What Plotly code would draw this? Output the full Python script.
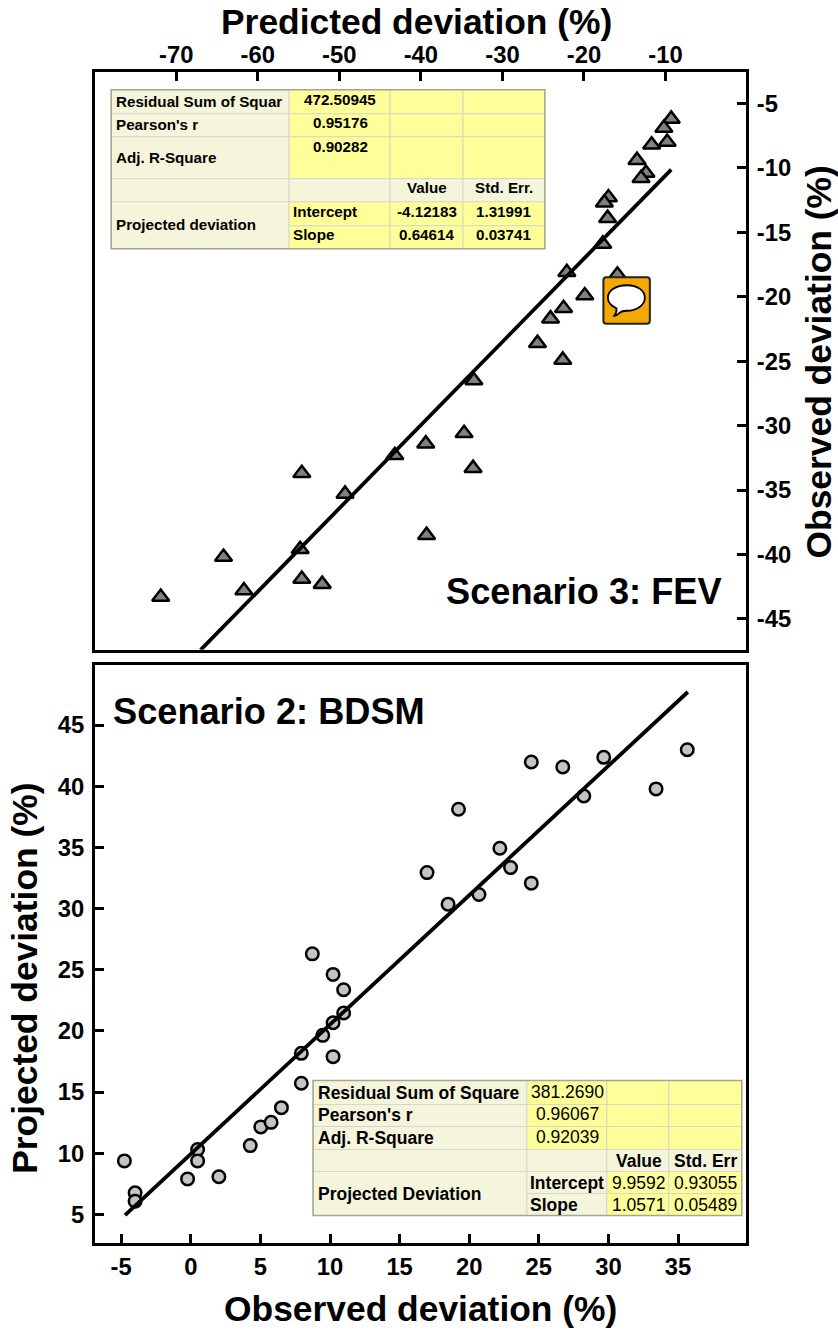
import plotly.graph_objects as go

# ---------- data: Scenario 3 (top) ----------
fev_pred = [-9.3,-10.2,-9.8,-11.7,-13.5,-12.4,-13.0,-17.0,-17.5,-17.1,-17.7,-22.1,-15.9,-19.9,-22.5,-24.1,-25.7,-22.6,
            -33.5,-34.7,-39.4,-43.2,-33.6,-49.3,-54.6,-54.8,-54.6,-52.1,-64.2,-61.7,-71.9,-39.3]
fev_obs = [-6.2,-6.9,-8.0,-8.2,-9.4,-10.4,-10.8,-12.3,-12.7,-13.9,-15.9,-18.1,-18.3,-19.9,-20.9,-21.7,-23.6,-24.9,
           -26.5,-30.6,-31.4,-32.3,-33.3,-35.3,-33.7,-39.6,-41.9,-42.3,-40.2,-42.8,-43.3,-38.5]
fev_fit_x = [-67.0,-9.3]
fev_fit_y = [-47.4,-10.13]

# ---------- data: Scenario 2 (bottom) ----------
bdsm_obs = [-4.77,-4.0,-4.0,-0.23,0.49,0.49,2.02,4.27,5.03,5.77,6.51,7.94,7.94,8.73,9.48,10.22,10.22,10.22,10.98,10.98,
            16.97,18.48,19.23,20.70,22.2,22.97,24.46,24.46,26.72,28.23,29.66,33.42,35.66]
bdsm_proj = [9.38,6.77,6.09,7.91,10.31,9.38,8.08,10.63,12.16,12.53,13.73,15.72,18.17,26.3,19.64,24.62,20.67,17.9,23.37,21.47,
             32.94,30.36,38.12,31.15,34.93,33.35,32.08,41.98,41.57,39.2,42.36,39.78,42.98]
bdsm_fit_x = [-4.72,35.7]
bdsm_fit_y = [4.95,47.7]

# ---------- tick labels ----------
top_x_ticks = [-70,-60,-50,-40,-30,-20,-10]
top_y_ticks = [-5,-10,-15,-20,-25,-30,-35,-40,-45]
bot_x_ticks = [-5,0,5,10,15,20,25,30,35]
bot_y_ticks = [5,10,15,20,25,30,35,40,45]

# ---------- tables ----------
t1_labels = ["Residual Sum of Squar","Pearson's r","Adj. R-Square","Projected deviation"]
t1_values = ["472.50945","0.95176","0.90282"]
t1_head = ["Value","Std. Err."]
t1_rows = ["Intercept","Slope"]
t1_val = [["-4.12183","1.31991"],["0.64614","0.03741"]]
t2_labels = ["Residual Sum of Square","Pearson's r","Adj. R-Square","Projected Deviation"]
t2_values = ["381.2690","0.96067","0.92039"]
t2_head = ["Value","Std. Err"]
t2_rows = ["Intercept","Slope"]
t2_val = [["9.9592","0.93055"],["1.0571","0.05489"]]

FONT = "Liberation Sans, Arial, sans-serif"
W, H = 838, 1330
L, R, T, B = 94.8, 746.2, 72.2, 1243.5
TOP_BOTTOM, BOT_TOP = 650.2, 665.8
BEIGE, YEL, GRID, EDGE = "#F5F5DC", "#FFFF99", "#D6D6CC", "#A6A68E"

def px(x): return (x - L) / (R - L)
def py(y): return (B - y) / (B - T)

shapes, annos = [], []

def rect(x0, y0, x1, y1, fill, line=GRID, w=1):
    shapes.append(dict(type="rect", xref="paper", yref="paper", x0=px(x0), x1=px(x1), y0=py(y0), y1=py(y1),
                       fillcolor=fill, line=dict(color=line, width=w), layer="above"))

def text(x, y, s, size, anchor="left", bold=True, angle=0):
    annos.append(dict(xref="paper", yref="paper", x=px(x), y=py(y), text=s, showarrow=False, xanchor=anchor,
                      yanchor="middle", textangle=angle, align=anchor,
                      font=dict(family=FONT, size=size, color="black", weight=700 if bold else 400)))

def table(xs, ys, beige_cells, labels, values, head, rows, val, size, lx, rx, cx, vy, ly, hy, pdy, ry, vbold):
    for r in range(4):
        for c in range(4):
            fill = BEIGE if (r, c) in beige_cells else YEL
            rect(xs[c], ys[r], xs[c+1], ys[r+1], fill)
    rect(xs[0], ys[4], xs[1], ys[6], BEIGE)
    for r in (4, 5):
        rect(xs[1], ys[r], xs[2], ys[r+1], BEIGE if (r, 1) in beige_cells else YEL)
        rect(xs[2], ys[r], xs[3], ys[r+1], YEL)
        rect(xs[3], ys[r], xs[4], ys[r+1], YEL)
    rect(xs[0], ys[0], xs[-1], ys[-1], "rgba(0,0,0,0)", EDGE, 1.5)
    for i in range(3):
        text(lx, ly[i], labels[i], size)
        text(cx[0], vy[i], values[i], size, "center", vbold)
    text(lx, pdy, labels[3], size)
    text(cx[1], hy, head[0], size, "center")
    text(cx[2], hy, head[1], size, "center")
    for i in range(2):
        text(rx, ry[i], rows[i], size)
        text(cx[1], ry[i], val[i][0], size, "center", vbold)
        text(cx[2], ry[i], val[i][1], size, "center", vbold)

b1 = {(0,0),(1,0),(2,0),(3,0),(3,1),(3,2),(3,3)}
table([111,289,390,463,545],[90,114,137,179,202,226,249], b1, t1_labels,t1_values,t1_head,t1_rows,t1_val,15.2,
      114,290.5,[340,427,504],[100,123,147],[102,125,158],188,225,[212,235],True)
b2 = b1 | {(4,1),(5,1)}
table([313,527,607,669,742],[1081,1105,1127,1150,1172,1194,1216], b2, t2_labels,t2_values,t2_head,t2_rows,t2_val,17.5,
      315.5,528.5,[568,639,706],[1092,1114,1137],[1093,1115,1138],1161,1194,[1183,1205],False)

# speech-bubble icon
def P(cmds):
    out = ""
    for c in cmds:
        out += c[0] + " ".join(f"{px(c[i]):.5f},{py(c[i+1]):.5f}" for i in range(1, len(c), 2)) + " "
    return out + "Z"

bx0, bx1, by0, by1, rr = 603.5, 650, 277.5, 324, 3
shapes.append(dict(type="path", xref="paper", yref="paper", layer="above", fillcolor="#F5A800",
                   line=dict(color="#222222", width=2),
                   path=P([("M",bx0+rr,by0),("L",bx1-rr,by0),("Q",bx1,by0,bx1,by0+rr),("L",bx1,by1-rr),("Q",bx1,by1,bx1-rr,by1),
                           ("L",bx0+rr,by1),("Q",bx0,by1,bx0,by1-rr),("L",bx0,by0+rr),("Q",bx0,by0,bx0+rr,by0)])))
shapes.append(dict(type="path", xref="paper", yref="paper", layer="above", fillcolor="white",
                   line=dict(color="black", width=1.8),
                   path=P([("M",627,285.5),("C",638,285.5,645,291,645,298),("C",645,306,636,311,627,311),
                           ("C",624,311,622,311,620,313),("C",618,315,616,316,614.5,316),("C",616,314,617,311,616.5,308.5),
                           ("C",611,306,608,302,608,298),("C",608,291,616,285.5,627,285.5)])))

# titles
text(416, 22, "Predicted deviation (%)", 35.4, "center")
text(819, 362, "Observed deviation (%)", 35.4, "center", True, -90)
text(420, 1310, "Observed deviation (%)", 35.4, "center")
text(24, 979, "Projected deviation (%)", 35.4, "center", True, -90)
text(584, 592, "Scenario 3: FEV", 36.2, "center")
text(268.5, 712, "Scenario 2: BDSM", 36.2, "center")

fig = go.Figure()
fig.add_trace(go.Scatter(x=fev_pred, y=fev_obs, mode="markers", xaxis="x", yaxis="y", showlegend=False,
                         marker=dict(symbol="triangle-up", size=15, color="#808080", line=dict(color="black", width=2.5))))
fig.add_trace(go.Scatter(x=fev_fit_x, y=fev_fit_y, mode="lines", xaxis="x", yaxis="y", showlegend=False,
                         line=dict(color="black", width=3.8)))
fig.add_trace(go.Scatter(x=bdsm_obs, y=bdsm_proj, mode="markers", xaxis="x2", yaxis="y2", showlegend=False,
                         marker=dict(symbol="circle", size=12.5, color="#C4C4C4", line=dict(color="black", width=2.5))))
fig.add_trace(go.Scatter(x=bdsm_fit_x, y=bdsm_fit_y, mode="lines", xaxis="x2", yaxis="y2", showlegend=False,
                         line=dict(color="black", width=3.8)))

def ax(**kw):
    d = dict(showgrid=False, zeroline=False, showline=True, mirror=True, linecolor="black", linewidth=3,
             ticks="inside", ticklen=9, tickwidth=2.5, tickcolor="black", tickmode="array",
             tickfont=dict(family=FONT, size=23.8, color="black", weight=700))
    d.update(kw)
    return d

fig.update_layout(
    width=W, height=H, autosize=False, paper_bgcolor="white", plot_bgcolor="white",
    margin=dict(l=L, r=W-R, t=T, b=H-B, pad=0), showlegend=False,
    xaxis=ax(domain=[0,1], range=[-79.96,-0.13], side="top", anchor="y", tickvals=top_x_ticks,
             ticktext=[str(v) for v in top_x_ticks], ticklabelstandoff=-4),
    yaxis=ax(domain=[(B-TOP_BOTTOM)/(B-T),1], range=[-47.40,-2.56], side="right", anchor="x", tickvals=top_y_ticks,
             ticktext=[str(v) for v in top_y_ticks], ticklabelstandoff=3),
    xaxis2=ax(domain=[0,1], range=[-6.88,39.88], side="bottom", anchor="y2", tickvals=bot_x_ticks,
              ticktext=[str(v) for v in bot_x_ticks]),
    yaxis2=ax(domain=[0,(B-BOT_TOP)/(B-T)], range=[2.67,49.87], side="left", anchor="x2", tickvals=bot_y_ticks,
              ticktext=[str(v) for v in bot_y_ticks], ticklabelstandoff=3),
    shapes=shapes, annotations=annos,
)
fig.write_html("out.html", config=dict(displayModeBar=False), post_script="document.body.style.margin='0';")
